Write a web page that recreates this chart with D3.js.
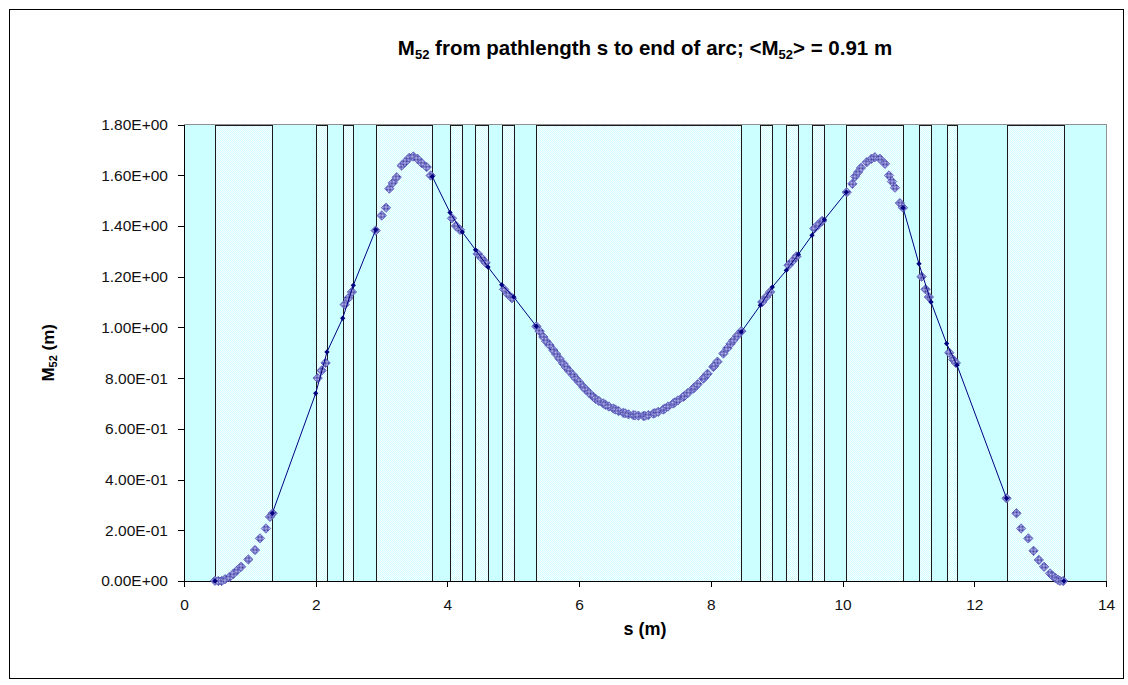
<!DOCTYPE html>
<html lang="en">
<head>
<meta charset="utf-8">
<title>M52 along the arc</title>
<script src="https://d3js.org/d3.v7.min.js"></script>
<style>
  body, html { margin: 0; padding: 0; background: #fff; }
  svg { display: block; }
  text { font-family: "Liberation Sans", Arial, sans-serif; fill: #000; }
  .axis path, .axis line { stroke: #000; stroke-width: 1px; shape-rendering: crispEdges; }
  .axis text { font-size: 15.5px; fill: #111; }
</style>
</head>
<body>
<svg id="chart" width="1128" height="685"></svg>
<script>
// element (magnet) extents along s, in m
var magStart = [0.471, 2.0, 2.41, 2.911, 4.039, 4.426, 4.824, 5.35, 8.751, 9.146, 9.536, 10.057, 11.16, 11.58, 12.49];
var magEnd   = [1.341, 2.171, 2.571, 3.77, 4.226, 4.616, 5.006, 8.462, 8.933, 9.328, 9.723, 10.918, 11.343, 11.738, 13.36];

// line series: values at element boundaries (null = break inside dipoles)
var lineS = [1.341, 2.0, 2.171, 2.41, 2.571, 2.911, null,
             3.77, 4.039, 4.226, 4.426, 4.616, 4.824, 5.006, 5.35, null,
             8.462, 8.751, 8.933, 9.146, 9.328, 9.536, 9.723, 10.057, null,
             10.918, 11.16, 11.343, 11.58, 11.738, 12.49, null,
             0.471, null, 13.36];
var lineM = [0.267, 0.740, 0.903, 1.036, 1.166, 1.385, null,
             1.595, 1.453, 1.376, 1.306, 1.238, 1.168, 1.12, 1.004, null,
             0.982, 1.087, 1.159, 1.225, 1.288, 1.363, 1.425, 1.533, null,
             1.472, 1.251, 1.100, 0.936, 0.851, 0.326, null,
             0, null, 0];

// scatter series: M52 inside the magnets
var scatS = [
  0.471, 0.521, 0.572, 0.623, 0.688, 0.749, 0.81, 0.866, 0.977, 1.078, 1.154, 1.245, 1.306, 1.347,
  2.03, 2.09, 2.15, 2.44, 2.495, 2.55,
  2.911, 3.002, 3.067, 3.117, 3.17, 3.23, 3.305, 3.356, 3.422, 3.482, 3.543, 3.609, 3.685, 3.746,
  4.07, 4.13, 4.19, 4.46, 4.52, 4.58, 4.86, 4.92, 4.98,
  5.35, 5.40, 5.456, 5.50, 5.55, 5.608, 5.65, 5.70, 5.76, 5.80, 5.85, 5.91, 5.95, 6.00, 6.063,
  6.10, 6.15, 6.215, 6.25, 6.30, 6.367, 6.40, 6.45, 6.519, 6.55, 6.60, 6.67, 6.70, 6.75, 6.82,
  6.85, 6.90, 6.974, 7.00, 7.05, 7.126, 7.15, 7.20, 7.278, 7.30, 7.35, 7.43, 7.45, 7.50, 7.58,
  7.60, 7.65, 7.733, 7.75, 7.80, 7.885, 7.90, 7.95, 8.037, 8.05, 8.10, 8.19, 8.25, 8.30, 8.34,
  8.40, 8.462,
  8.78, 8.84, 8.90, 9.18, 9.24, 9.30, 9.57, 9.63, 9.69,
  10.063, 10.148, 10.19, 10.235, 10.28, 10.366, 10.44, 10.49, 10.568, 10.644, 10.705, 10.75, 10.796, 10.87, 10.918,
  11.20, 11.26, 11.31, 11.62, 11.68, 11.72,
  12.49, 12.64, 12.71, 12.82, 12.90, 12.98, 13.06, 13.15, 13.19, 13.235, 13.27, 13.30, 13.35
];
var scatM = [
  0.001, 0, 0, 0.007, 0.015, 0.028, 0.043, 0.056, 0.085, 0.122, 0.168, 0.207, 0.253, 0.267,
  0.80, 0.83, 0.86, 1.09, 1.115, 1.14,
  1.382, 1.441, 1.472, 1.547, 1.57, 1.592, 1.638, 1.651, 1.669, 1.674, 1.665, 1.648, 1.632, 1.599,
  1.43, 1.40, 1.385, 1.29, 1.273, 1.255, 1.15, 1.13, 1.115,
  1.004, 0.985, 0.962, 0.945, 0.93, 0.91, 0.895, 0.877, 0.857, 0.843, 0.828, 0.811, 0.798, 0.784, 0.765,
  0.755, 0.742, 0.726, 0.718, 0.71, 0.70, 0.695, 0.688, 0.68, 0.676, 0.67, 0.663, 0.661, 0.657, 0.654,
  0.653, 0.652, 0.651, 0.651, 0.654, 0.66, 0.662, 0.667, 0.676, 0.68, 0.688, 0.70, 0.704, 0.712, 0.726,
  0.73, 0.741, 0.759, 0.763, 0.776, 0.798, 0.802, 0.817, 0.844, 0.848, 0.865, 0.897, 0.918, 0.935, 0.949,
  0.967, 0.985,
  1.10, 1.12, 1.14, 1.245, 1.262, 1.28, 1.39, 1.405, 1.42,
  1.533, 1.566, 1.595, 1.612, 1.629, 1.651, 1.665, 1.671, 1.665, 1.645, 1.599, 1.575, 1.551, 1.49, 1.472,
  1.20, 1.15, 1.12, 0.90, 0.873, 0.86,
  0.326, 0.267, 0.207, 0.168, 0.119, 0.083, 0.056, 0.030, 0.02, 0.011, 0.005, 0.001, 0
];

var xTicks = [0, 2, 4, 6, 8, 10, 12, 14];
var yTicks = [0, 0.2, 0.4, 0.6, 0.8, 1.0, 1.2, 1.4, 1.6, 1.8];

var plotL = 184, plotR = 1106, plotT = 124.5, plotB = 581;

var svg = d3.select("#chart");
var x = d3.scaleLinear().domain([0, 14]).range([plotL, plotR]);
var y = d3.scaleLinear().domain([0, 1.8]).range([plotB, plotT]);

// Excel-like exponent labels: 1.80E+00
function fmtE(v) {
    if (v === 0) return "0.00E+00";
    var e = Math.floor(Math.log10(v) + 1e-9);
    var m = v / Math.pow(10, e);
    var es = (e < 0 ? "-" : "+") + (Math.abs(e) < 10 ? "0" : "") + Math.abs(e);
    return m.toFixed(2) + "E" + es;
}

var defs = svg.append("defs");
var pLight = defs.append("pattern").attr("id", "lightcyan")
    .attr("patternUnits", "userSpaceOnUse").attr("width", 2).attr("height", 2);
pLight.append("rect").attr("width", 2).attr("height", 2).attr("fill", "#ffffff");
pLight.append("rect").attr("width", 1).attr("height", 1).attr("fill", "#ccffff");
pLight.append("rect").attr("x", 1).attr("y", 1).attr("width", 1).attr("height", 1).attr("fill", "#ccffff");

var pMark = defs.append("pattern").attr("id", "markfill")
    .attr("patternUnits", "userSpaceOnUse").attr("width", 2).attr("height", 2);
pMark.append("rect").attr("width", 2).attr("height", 2).attr("fill", "#c4c4f4");
pMark.append("rect").attr("width", 1).attr("height", 1).attr("fill", "#34349c");
pMark.append("rect").attr("x", 1).attr("y", 1).attr("width", 1).attr("height", 1).attr("fill", "#34349c");

// chart frame
svg.append("rect")
    .attr("x", 9.5).attr("y", 9.5).attr("width", 1114).attr("height", 669)
    .attr("fill", "#fff").attr("stroke", "#000").attr("stroke-width", 1);

// plot area
svg.append("rect")
    .attr("x", plotL).attr("y", plotT).attr("width", plotR - plotL).attr("height", plotB - plotT)
    .attr("fill", "#ccffff").attr("stroke", "#909090").attr("stroke-width", 1)
    .style("shape-rendering", "crispEdges");

// magnets
svg.append("g").selectAll("rect")
    .data(d3.range(magStart.length))
    .enter().append("rect")
    .attr("x", function(i) { return Math.round(x(magStart[i])) + 0.5; })
    .attr("y", Math.round(y(1.8)) + 0.5)
    .attr("width", function(i) { return Math.round(x(magEnd[i])) - Math.round(x(magStart[i])); })
    .attr("height", Math.round(y(0)) - Math.round(y(1.8)))
    .attr("fill", "url(#lightcyan)")
    .attr("stroke", "#1a1a1a").attr("stroke-width", 1);

// axes
svg.append("g").attr("class", "axis")
    .attr("transform", "translate(" + plotL + ",0)")
    .call(d3.axisLeft(y).tickValues(yTicks).tickFormat(fmtE).tickSize(6).tickPadding(10).tickSizeOuter(0));

svg.append("g").attr("class", "axis")
    .attr("transform", "translate(0," + plotB + ")")
    .call(d3.axisBottom(x).tickValues(xTicks).tickFormat(d3.format("d")).tickSize(6).tickPadding(12).tickSizeOuter(0));

// scatter diamonds
var diamond = d3.symbol().type(d3.symbolSquare).size(44);
svg.append("g").selectAll("path")
    .data(d3.range(scatS.length))
    .enter().append("path")
    .attr("d", diamond)
    .attr("transform", function(i) {
        return "translate(" + x(scatS[i]) + "," + y(scatM[i]) + ") rotate(45)";
    })
    .attr("fill", "url(#markfill)")
    .attr("stroke", "#5252b8").attr("stroke-width", 0.7);

// boundary line
var idx = d3.range(lineS.length);
var line = d3.line()
    .defined(function(i) { return lineS[i] !== null; })
    .x(function(i) { return x(lineS[i]); })
    .y(function(i) { return y(lineM[i]); });
svg.append("path")
    .attr("d", line(idx))
    .attr("fill", "none").attr("stroke", "#000080").attr("stroke-width", 1);

var small = d3.symbol().type(d3.symbolSquare).size(14);
svg.append("g").selectAll("path")
    .data(idx.filter(function(i) { return lineS[i] !== null; }))
    .enter().append("path")
    .attr("d", small)
    .attr("transform", function(i) {
        return "translate(" + x(lineS[i]) + "," + y(lineM[i]) + ") rotate(45)";
    })
    .attr("fill", "#000080");

// titles
var title = svg.append("text")
    .attr("x", (plotL + plotR) / 2).attr("y", 55)
    .attr("text-anchor", "middle")
    .style("font-size", "20.5px").style("font-weight", "bold");
title.append("tspan").text("M");
title.append("tspan").attr("dy", 4).style("font-size", "13px").text("52");
title.append("tspan").attr("dy", -4).text(" from pathlength s to end of arc; <M");
title.append("tspan").attr("dy", 4).style("font-size", "13px").text("52");
title.append("tspan").attr("dy", -4).text("> = 0.91 m");

svg.append("text")
    .attr("x", (plotL + plotR) / 2).attr("y", 635)
    .attr("text-anchor", "middle")
    .style("font-size", "18px").style("font-weight", "bold")
    .text("s (m)");

var ytitle = svg.append("text")
    .attr("transform", "translate(54," + ((plotT + plotB) / 2) + ") rotate(-90)")
    .attr("text-anchor", "middle")
    .style("font-size", "17px").style("font-weight", "bold");
ytitle.append("tspan").text("M");
ytitle.append("tspan").attr("dy", 3).style("font-size", "11px").text("52");
ytitle.append("tspan").attr("dy", -3).text(" (m)");
</script>
</body>
</html>
